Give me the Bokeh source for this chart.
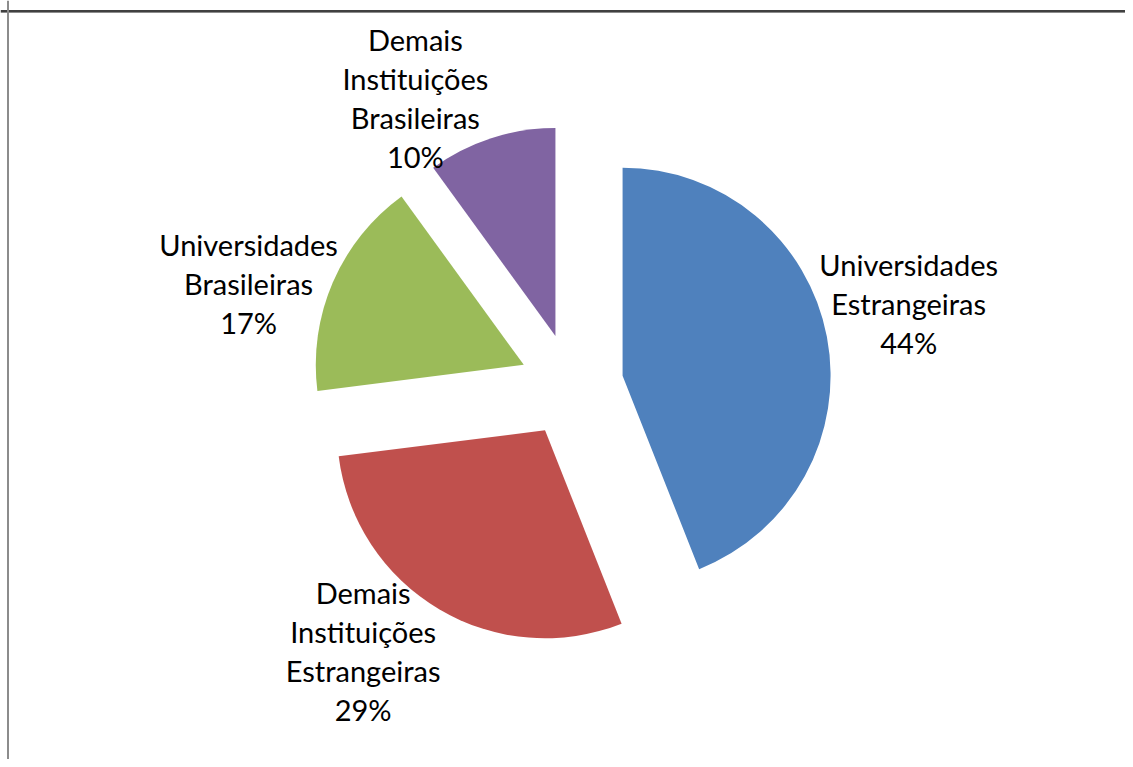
import math
from bokeh.plotting import figure
from bokeh.models import Range1d, Span, ColumnDataSource
from bokeh.core.properties import value
from bokeh.embed import file_html
from bokeh.resources import INLINE

# ---- data ----
categories = ["Universidades Estrangeiras", "Demais Instituições Estrangeiras",
              "Universidades Brasileiras", "Demais Instituições Brasileiras"]
label_lines = [["Universidades", "Estrangeiras"],
               ["Demais", "Instituições", "Estrangeiras"],
               ["Universidades", "Brasileiras"],
               ["Demais", "Instituições", "Brasileiras"]]
percents = [44, 29, 17, 10]
colors = ["#4F81BD", "#C0504D", "#9BBB59", "#8064A2"]

# ---- layout (pixel space; y measured upward) ----
W, H = 1125, 759
TOP = 767
cx, cy = 571, TOP - 385          # pie centre
R = 208                          # radius
EXPLODE = 52                     # explosion distance
LABEL_DIST = [295, 286, 287, 276]
LABEL_TURN = [-3.3, 8.9, -6.9, -12.5]   # degrees (clockwise) adjustment of label direction
LINE_H = 39
FONT = "Lato"
FS = "29px"

p = figure(width=W, height=H, output_backend="svg", toolbar_location=None,
           x_range=Range1d(0, W), y_range=Range1d(TOP - H, TOP),
           min_border=0, outline_line_color=None)
p.axis.visible = False
p.grid.visible = False
p.background_fill_color = "white"
p.border_fill_color = "white"

total = sum(percents)
theta = 0.0  # clockwise from 12 o'clock, degrees
xs, ys, starts, ends = [], [], [], []
tx, ty, tt = [], [], []
for i, v in enumerate(percents):
    span = 360.0 * v / total
    mid = theta + span / 2
    mr = math.radians(mid)
    dx, dy = math.sin(mr), math.cos(mr)
    ax, ay = cx + EXPLODE * dx, cy + EXPLODE * dy
    xs.append(ax); ys.append(ay)
    starts.append(math.radians(90 - (theta + span)))
    ends.append(math.radians(90 - theta))
    lr = math.radians(mid + LABEL_TURN[i])
    lx = ax + LABEL_DIST[i] * math.sin(lr)
    ly = ay + LABEL_DIST[i] * math.cos(lr)
    lines = label_lines[i] + [f"{v}%"]
    n = len(lines)
    for k, s in enumerate(lines):
        tx.append(lx)
        ty.append(ly + (n - 1) / 2 * LINE_H - k * LINE_H)
        tt.append(s)
    theta += span

src = ColumnDataSource(dict(x=xs, y=ys, start=starts, end=ends, color=colors, name=categories))
p.wedge(x="x", y="y", radius=R, start_angle="start", end_angle="end",
        direction="anticlock", fill_color="color", line_color=None, source=src)

p.text(x=tx, y=ty, text=tt, text_font=value(FONT), text_font_size=FS,
       text_align="center", text_baseline="middle", text_color="black")

# chart area border (top and left edges visible)
p.add_layout(Span(location=TOP - 10.5, dimension="width", line_color="#000000", line_width=1.5))
p.add_layout(Span(location=TOP - 12, dimension="width", line_color="#8c8c8c", line_width=1))
p.add_layout(Span(location=7.5, dimension="height", line_color="#8c8c8c", line_width=2))

open("out.html", "w").write(file_html(p, INLINE))
